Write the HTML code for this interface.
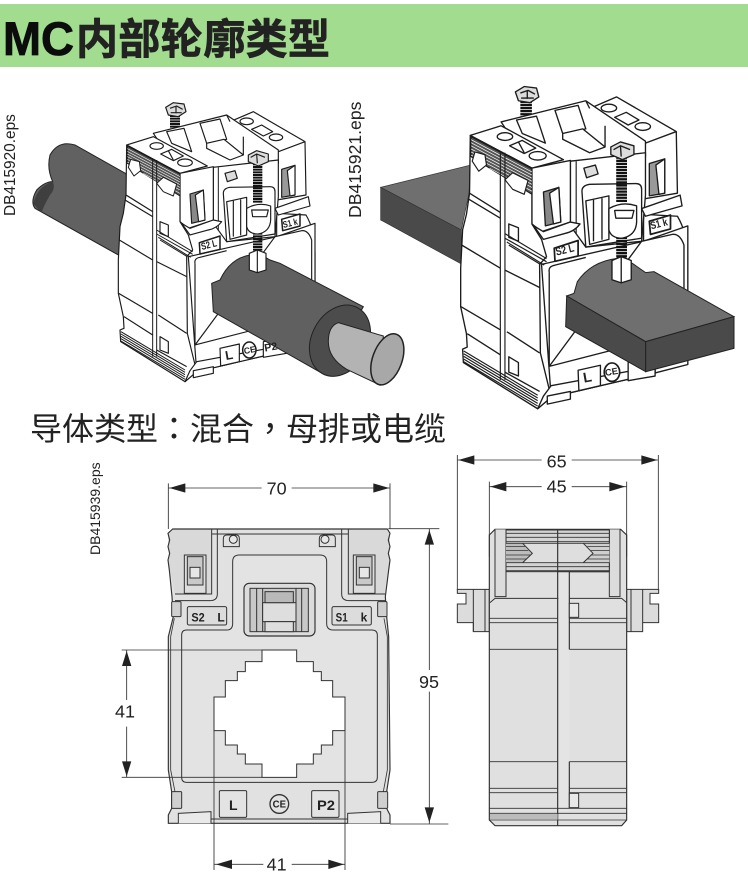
<!DOCTYPE html>
<html><head><meta charset="utf-8">
<style>
html,body{margin:0;padding:0;background:#fff}
svg{display:block}
.d{font-family:"Liberation Sans",sans-serif;fill:#222}
.k{font-family:"Liberation Sans","Noto Sans CJK SC",sans-serif}
</style></head><body>
<svg width="748" height="878" viewBox="0 0 748 878" xmlns="http://www.w3.org/2000/svg">
<defs>
<g id="base" stroke="#1c1c1c" stroke-width="3.5" stroke-linejoin="round" fill="#fff">
  <!-- back screw -->
  <path d="M525,105 L525,150" stroke="#111" stroke-width="30" stroke-dasharray="6 2" fill="none"/>
  <path d="M497,82 L520,68 L552,72 L558,95 L535,110 L505,105 Z" fill="#ddd"/>
  <path d="M510,85 L530,78 L548,88 M528,78 L528,100 M512,98 L545,98" fill="none"/>
  <!-- rear right terminal -->
  <path d="M690,125 L760,95 L915,185 L918,345 L830,360 L830,215 Z"/>
  <path d="M730,170 L835,215 L915,185" fill="none"/>
  <ellipse cx="740" cy="124" rx="20" ry="10"/>
  <ellipse cx="828" cy="172" rx="20" ry="10"/>
  <path d="M755,148 L785,135 L818,155 L790,168 Z"/>
  <path d="M845,268 L885,256 L885,345 L845,352 Z" fill="#999"/>
  <path d="M862,272 L885,256 L885,345 L870,348 Z" fill="#fff"/>
  <!-- outer right of body -->
  <path d="M830,400 L918,405 Q945,450 945,520 L945,700 L830,720 Z"/>
  <!-- middle top -->
  <path d="M460,160 L680,105 L835,210 L835,250 L640,262 L540,280 Z"/>
  <path d="M500,155 L552,145 L575,215 L515,190 Z"/>
  <path d="M600,130 L660,117 L680,178 L620,190 Z"/>
  <path d="M620,190 L672,178 L730,225 L690,240 L620,205 Z"/>
  <path d="M680,105 L690,125 M730,170 L730,225" fill="none"/>
  <!-- centre face -->
  <path d="M565,530 L830,470 L945,430 L945,790 L860,812 L590,875 Z"/>
  <path d="M640,262 L835,240 L835,350 L825,470 L680,485 L640,430 Z"/>
  <path d="M655,262 L655,450" fill="none" stroke-width="3"/>
  <path d="M670,340 Q670,325 690,322 L810,320 Q825,320 825,335 L825,462 L680,485 Z"/>
  <path d="M680,365 L740,352 L740,465 L690,478 Z"/>
  <path d="M700,362 L700,470 M722,358 L722,466" fill="none"/>
  <path d="M675,280 L705,272 L712,295 L682,305 Z" fill="#ddd"/>
  <path d="M585,550 Q582,535 600,532 L680,512 M825,470 L905,452 Q925,450 935,480 L935,705 L585,795 Z" fill="#fff"/>
  <path d="M585,550 L585,795" fill="none"/>
  <!-- flange strips -->
  <path d="M825,385 L925,350 L930,378 L835,405 Z"/>
  <!-- left block top -->
  <path d="M380,195 L460,170 L622,258 L540,280 Z"/>
  <ellipse cx="470" cy="198" rx="20" ry="10"/>
  <ellipse cx="555" cy="248" rx="22" ry="11"/>
  <path d="M482,222 L515,208 L550,228 L520,242 Z"/>
  <path d="M505,212 L520,240" fill="none"/>
  <!-- left block front -->
  <path d="M540,280 L640,260 L640,420 L565,445 L540,425 Z"/>
  <path d="M570,342 L610,330 L615,420 L575,430 Z" fill="#888"/>
  <path d="M586,345 L610,330 L615,420 L596,425 Z"/>
  <!-- left side -->
  <path d="M380,195 L540,280 L540,425 L565,465 L578,510 L560,530 L562,760 L590,875 L555,905 L362,785 L360,750 L372,745 L370,710 L355,640 L355,540 L360,440 L370,400 L378,345 Z"/>
  <path d="M382,198 L540,282 L540,348 L382,250 Z" fill="#555" stroke-width="3"/>
  <path d="M382,206 L540,290 M382,214 L540,298 M382,222 L540,306 M382,230 L540,314 M382,238 L540,322 M382,246 L540,330 M430,280 L540,340" fill="none" stroke="#fff" stroke-width="1.8"/>
  <path d="M392,238 L418,245 L422,272 L402,288 L385,262 Z" stroke-width="3"/>
  <path d="M490,292 L530,312 L520,348 L490,335 L470,310 Z" stroke-width="3"/>
  <path d="M458,240 L458,830 M470,240 L470,830" fill="none" stroke-width="3"/>
  <path d="M378,345 L458,395 M375,360 L458,410 M358,480 L458,540 M470,545 L560,590 M356,640 L458,700 M372,710 L458,765 M475,705 L560,760" fill="none"/>
  <path d="M480,425 L505,435 L505,470 L480,460 Z"/>
  <path d="M470,450 L578,515 M470,462 L578,523 M475,472 L572,532 M480,480 L562,530" fill="none" stroke-width="3"/>
  <path d="M480,770 L505,785 L505,820 L480,810 Z"/>
  <path d="M470,810 L560,860" fill="none"/>
  <path d="M363,755 L555,870 M363,762 L555,877 M363,769 L555,884 M363,776 L555,891 M363,783 L555,898" fill="none" stroke-width="3"/>
  <path d="M555,905 L590,875 L860,812 L860,795 L590,845 L570,872 Z"/>
  <path d="M580,872 L640,860 L640,880 L580,893 Z"/>
  <!-- label flange -->
  <path d="M545,430 L570,445 L640,420 L665,425 Q650,445 625,450 L570,465 Z"/>
  <!-- labels frames -->
  <path d="M598,488 L660,468 L660,508 L600,522 Z" stroke-width="4.5"/>
  <path d="M845,418 L900,402 L900,438 L848,452 Z" stroke-width="4.5"/>
  <path d="M660,805 L718,792 L718,845 L662,858 Z" stroke-width="3.5"/>
  <ellipse cx="748" cy="810" rx="20" ry="24" stroke-width="4.5"/>
  <path d="M790,785 L860,770 L860,820 L790,832 Z" stroke-width="3.5"/>
</g>
<g id="front" stroke="#1c1c1c" stroke-width="3.5" stroke-linejoin="round" fill="#fff">
  <path d="M773,250 L773,370" stroke="#111" stroke-width="28" stroke-dasharray="6 2" fill="none"/>
  <path d="M773,450 L773,520" stroke="#111" stroke-width="28" stroke-dasharray="6 2" fill="none"/>
  <path d="M745,225 L770,212 L805,222 L805,245 L775,258 L745,245 Z" fill="#ddd"/>
  <path d="M752,232 L770,222 L795,232 M770,222 L772,250" fill="none"/>
  <path d="M740,385 Q775,365 812,378 L812,420 Q810,455 775,462 Q745,462 740,440 Z"/>
  <path d="M755,390 L805,390 L800,410 L758,410 Z"/>
  <path d="M748,520 L772,510 L798,520 L798,570 L772,578 L748,570 Z"/>
  <path d="M772,510 L772,578" fill="none"/>
</g>
</defs>

<rect x="0" y="0" width="748" height="878" fill="#fff"/>
<!-- Header -->
<rect x="0" y="4" width="748" height="63" fill="#a2dc8e"/>
<text class="k" x="3" y="55" font-size="47" font-weight="700" fill="#0c0c0c" stroke="#0c0c0c" stroke-width=".8" textLength="71" lengthAdjust="spacingAndGlyphs">MC</text>
<text class="k" x="76" y="54" font-size="42" font-weight="700" fill="#222" stroke="#222" stroke-width=".7" textLength="254">内部轮廓类型</text>

<!-- Left device -->
<text class="d" transform="translate(15,216) rotate(-90)" font-size="15.4" fill="#444">DB415920.eps</text>
<g transform="translate(0,80) scale(.33333)">
  <path d="M150,225 Q175,180 225,195 L385,285 L380,400 L355,525 L105,385 Q90,365 110,330 Q135,305 158,305 Q140,265 150,225 Z" fill="#616161" stroke="#222" stroke-width="3"/>
  <path d="M100,372 Q110,320 158,305 Q168,325 150,345 Q130,380 125,398 Z" fill="#3f3f3f"/>
  <use href="#base"/>
  <path d="M635,610 L660,600 Q690,535 750,525 Q790,525 810,540 L840,550 L1090,680 L975,885 L640,695 Z" fill="#606060" stroke="#222" stroke-width="3"/>
  <ellipse cx="1020" cy="782" rx="85" ry="112" transform="rotate(28 1020 782)" fill="#4c4c4c" stroke="#222" stroke-width="3"/>
  <path d="M985,785 Q985,738 1015,728 L1150,768 L1140,915 L1040,868 Q985,835 985,785 Z" fill="#b3b3b3" stroke="#222" stroke-width="3"/>
  <ellipse cx="1162" cy="838" rx="44" ry="80" transform="rotate(20 1162 838)" fill="#a8a8a8" stroke="#222" stroke-width="4.5"/>
  <use href="#front"/>
  <g font-family="'Liberation Sans',sans-serif" font-weight="700" fill="#222">
    <text transform="translate(606,510) rotate(-14)" font-size="30" textLength="48" lengthAdjust="spacingAndGlyphs">S2 L</text>
    <text transform="translate(851,444) rotate(-14)" font-size="28" textLength="45" lengthAdjust="spacingAndGlyphs">S1 k</text>
    <text transform="translate(678,840) rotate(-10)" font-size="38">L</text>
    <text transform="translate(733,822) rotate(-10)" font-size="26">CE</text>
    <text transform="translate(795,815) rotate(-10)" font-size="32">P2</text>
  </g>
</g>

<!-- Right device -->
<text class="d" transform="translate(361,218) rotate(-90)" font-size="17.6" fill="#444">DB415921.eps</text>
<g transform="translate(374,80) scale(.33333)">
  <path d="M20,322 L290,255 L285,340 L262,450 Z" fill="#6f6f6f" stroke="#333" stroke-width="2"/>
  <path d="M20,322 L262,450 L262,552 L20,420 Z" fill="#4a4a4a" stroke="#333" stroke-width="2"/>
  <g transform="translate(-150,-59) scale(1.155)"><use href="#base"/></g>
  <path d="M578,648 L600,640 L610,605 Q650,545 730,535 L775,550 L815,578 L840,575 L1080,710 L815,785 Z" fill="#6f6f6f" stroke="#222" stroke-width="3"/>
  <path d="M578,648 L815,785 L815,875 L575,740 Z" fill="#4a4a4a" stroke="#222" stroke-width="3"/>
  <path d="M815,785 L1080,710 L1080,805 L815,875 Z" fill="#4a4a4a" stroke="#222" stroke-width="3"/>
  <g transform="translate(-150,-59) scale(1.155)"><use href="#front"/></g>
  <g font-family="'Liberation Sans',sans-serif" font-weight="700" fill="#222">
    <text transform="translate(548,527) rotate(-14)" font-size="34" textLength="56" lengthAdjust="spacingAndGlyphs">S2 L</text>
    <text transform="translate(832,448) rotate(-14)" font-size="32" textLength="52" lengthAdjust="spacingAndGlyphs">S1 k</text>
    <text transform="translate(630,908) rotate(-10)" font-size="42">L</text>
    <text transform="translate(695,888) rotate(-10)" font-size="28">CE</text>
  </g>
</g>

<!-- Sub heading -->
<text x="30" y="440" font-size="32" fill="#222" font-family="'Noto Sans CJK TC','Noto Sans CJK SC',sans-serif">导体类型&#xFF1A;混合&#xFF0C;母排或电缆</text>

<!-- Front view -->
<text class="d" transform="translate(100,555) rotate(-90)" font-size="14" fill="#444">DB415939.eps</text>
<g transform="translate(80,450) scale(.33333)">
  <path d="M278,237 L922,237 L930,250 L925,270 L930,290 L925,310 L930,330 L926,360 L916,440 L920,500 L926,560 L930,960 L920,1025 L920,1075 L930,1095 L930,1120 L265,1120 L265,1095 L275,1075 L275,1025 L265,960 L265,560 L280,500 L276,440 L268,360 L264,330 L269,310 L264,290 L269,270 L264,250 Z" fill="#e1e1e1"/>
  <path d="M278,237 L395,237 L395,432 L285,432 L268,350 L264,250 Z" fill="#d9d9d9"/>
  <path d="M922,237 L805,237 L805,432 L912,432 L926,350 L930,250 Z" fill="#d9d9d9"/>
  <path d="M278,237 L922,237 L930,250 L925,270 L930,290 L925,310 L930,330 L926,360 L916,440 L920,500 L926,560 L930,960 L920,1025 L920,1075 L930,1095 L930,1120 L265,1120 L265,1095 L275,1075 L275,1025 L265,960 L265,560 L280,500 L276,440 L268,360 L264,330 L269,310 L264,290 L269,270 L264,250 Z" fill="none" stroke="#333" stroke-width="3.5" stroke-linejoin="round"/>
  <path d="M283,505 L272,560 L272,960 L285,1025 M912,505 L922,560 L922,960 L910,1025" fill="none" stroke="#333" stroke-width="2.5"/>
  <g fill="none" stroke="#333" stroke-width="3">
    <path d="M395,237 L395,432 L285,432"/>
    <path d="M412,237 L412,432 Q412,452 390,452 L285,452"/>
    <path d="M805,237 L805,432 L915,432"/>
    <path d="M785,237 L785,432 Q785,452 808,452 L915,452"/>
    <path d="M395,252 L805,252"/>
  </g>
  <path d="M430,290 L430,265 Q430,255 442,255 L468,255 Q478,255 478,265 L478,290 Z" fill="#e1e1e1" stroke="#333" stroke-width="3"/>
  <circle cx="460" cy="268" r="12" fill="#e8e8e8" stroke="#333" stroke-width="3"/>
  <path d="M718,290 L718,265 Q718,255 730,255 L756,255 Q766,255 766,265 L766,290 Z" fill="#e1e1e1" stroke="#333" stroke-width="3"/>
  <circle cx="735" cy="268" r="12" fill="#e8e8e8" stroke="#333" stroke-width="3"/>
  <!-- terminal windows -->
  <g fill="#ddd" stroke="#333" stroke-width="3">
    <rect x="313" y="315" width="65" height="115"/>
    <rect x="322" y="320" width="47" height="85" fill="#c9c9c9"/>
    <rect x="330" y="352" width="30" height="32" fill="#e6e6e6"/>
    <rect x="820" y="315" width="65" height="115"/>
    <rect x="829" y="320" width="47" height="85" fill="#c9c9c9"/>
    <rect x="838" y="352" width="30" height="32" fill="#e6e6e6"/>
  </g>
  <!-- main panel -->
  <path d="M305,555 Q305,540 320,540 L440,540 Q458,540 458,520 L458,335 Q458,315 478,315 L720,315 Q740,315 740,335 L740,520 Q740,540 760,540 L875,540 Q892,540 892,555 L892,982 Q892,997 875,997 L320,997 Q305,997 305,982 Z" fill="#e3e3e3" stroke="#333" stroke-width="3"/>
  <rect x="492" y="400" width="213" height="158" rx="16" fill="#dcdcdc" stroke="#333" stroke-width="3.5"/>
  <rect x="510" y="415" width="175" height="130" fill="#c8c8c8" stroke="#333" stroke-width="3"/>
  <path d="M530,415 V545 M548,415 V545 M648,415 V545 M665,415 V545" stroke="#333" stroke-width="3" fill="none"/>
  <rect x="548" y="458" width="100" height="57" fill="#dedede" stroke="#333" stroke-width="3"/>
  <rect x="555" y="425" width="85" height="33" fill="#b9b9b9" stroke="#333" stroke-width="3"/>
  <rect x="555" y="515" width="85" height="30" fill="#dedede" stroke="#333" stroke-width="3"/>
  <!-- S labels -->
  <rect x="322" y="470" width="118" height="55" rx="5" fill="#dcdcdc" stroke="#333" stroke-width="3"/>
  <rect x="756" y="470" width="118" height="55" rx="5" fill="#dcdcdc" stroke="#333" stroke-width="3"/>
  <g font-family="'Liberation Sans',sans-serif" font-weight="700" fill="#222" font-size="36">
    <text x="334" y="514" textLength="40" lengthAdjust="spacingAndGlyphs">S2</text>
    <text x="412" y="514">L</text>
    <text x="767" y="514" textLength="36" lengthAdjust="spacingAndGlyphs">S1</text>
    <text x="842" y="514">k</text>
  </g>
  <!-- clips -->
  <g fill="#d0d0d0" stroke="#333" stroke-width="3">
    <rect x="275" y="455" width="28" height="45" rx="3"/>
    <rect x="893" y="455" width="28" height="45" rx="3"/>
    <rect x="275" y="1025" width="30" height="50" rx="3"/>
    <rect x="893" y="1025" width="30" height="50" rx="3"/>
  </g>
  <!-- hole -->
  <path d="M546,600 L650,600 L650,635 L700,635 L700,665 L724,665 L724,692 L758,692 L758,741 L795,741 L795,842 L758,842 L758,885 L724,885 L724,912 L700,912 L700,942 L650,942 L650,982 L546,982 L546,942 L496,942 L496,912 L472,912 L472,885 L436,885 L436,842 L402,842 L402,741 L436,741 L436,692 L472,692 L472,665 L496,665 L496,635 L546,635 Z" fill="#fff" stroke="#333" stroke-width="3"/>
  <!-- bottom labels -->
  <rect x="418" y="1022" width="82" height="80" rx="4" fill="#e3e3e3" stroke="#333" stroke-width="3"/>
  <rect x="695" y="1022" width="82" height="80" rx="4" fill="#e3e3e3" stroke="#333" stroke-width="3"/>
  <circle cx="598" cy="1062" r="28" fill="#e3e3e3" stroke="#333" stroke-width="4"/>
  <g font-family="'Liberation Sans',sans-serif" font-weight="700" fill="#222">
    <text x="447" y="1080" font-size="42">L</text>
    <text x="711" y="1080" font-size="42" textLength="54" lengthAdjust="spacingAndGlyphs">P2</text>
    <text x="578" y="1073" font-size="30" textLength="40" lengthAdjust="spacingAndGlyphs">CE</text>
  </g>
  <!-- feet -->
  <path d="M295,1120 L295,1090 L393,1085 L393,1120 M803,1120 L803,1090 L902,1085 L902,1120 M393,1107 L803,1107" fill="#e9e9e9" stroke="#333" stroke-width="3"/>
  <!-- dims -->
  <g stroke="#333" stroke-width="2.6" fill="none">
    <path d="M265,100 V237 M930,100 V237 M265,114 H545 M635,114 H930"/>
    <path d="M925,236 H1078 M930,1122 H1105 M1048,237 V660 M1048,725 V1122"/>
    <path d="M125,600 H546 M125,982 H546 M140,600 V750 M140,830 V982"/>
    <path d="M402,842 V1260 M795,800 V1260 M402,1243 H550 M635,1243 H795"/>
  </g>
  <g fill="#222">
    <polygon points="268,114 316,100 316,128"/><polygon points="928,114 880,100 880,128"/>
    <polygon points="1048,240 1034,284 1062,284"/><polygon points="1048,1118 1034,1072 1062,1072"/>
    <polygon points="140,603 126,648 154,648"/><polygon points="140,979 126,934 154,934"/>
    <polygon points="408,1243 456,1229 456,1257"/><polygon points="792,1243 745,1229 745,1257"/>
  </g>
  <g class="d" font-size="54" text-anchor="middle" fill="#333">
    <text x="590" y="133">70</text>
    <text x="1047" y="714">95</text>
    <text x="135" y="803">41</text>
    <text x="590" y="1262">41</text>
  </g>
</g>

<!-- Side view -->
<g transform="translate(450,450) scale(.33333)" stroke="#333" stroke-width="3">
  <path d="M22,418 L118,418 L118,545 L70,545 L70,518 L22,518 L22,462 L48,462 L48,430 L22,430 Z" fill="#dcdcdc"/>
  <path d="M530,418 L626,418 L626,430 L600,430 L600,462 L626,462 L626,518 L578,518 L578,545 L530,545 Z" fill="#dcdcdc"/>
  <path d="M70,418 V545 M105,418 V545 M543,418 V545 M578,418 V518" fill="none"/>
  <path d="M118,255 L135,238 L512,238 L530,255 L530,1110 L515,1127 L135,1127 L118,1110 Z" fill="#e0e0e0" stroke-width="3.5"/>
  <path d="M135,238 V440 H168 V238 M478,238 V440 H510 V238" fill="#dcdcdc"/>
  <path d="M120,458 L135,445 L515,445 L530,458" fill="none"/>
  <rect x="168" y="240" width="310" height="125" fill="#d4d4d4"/>
  <rect x="168" y="280" width="310" height="58" fill="#dedede" stroke="none"/>
  <path d="M168,280 V338 L218,338 L247,310 L218,280 Z" fill="#bdbdbd" stroke="none"/>
  <path d="M429,310 L400,280 L478,280 L478,338 L400,338 Z" fill="#cfcfcf" stroke="none"/>
  <path d="M168,250 H478 M168,262 H478 M168,275 H478 M168,280 H478 M168,338 H478 M168,350 H478 M168,362 H478" fill="none" stroke-width="2.5"/>
  <path d="M168,290 H225 M168,302 H235 M168,315 H240 M168,327 H230 M412,290 H478 M422,302 H478 M422,315 H478 M412,327 H478" fill="none" stroke-width="2.2"/>
  <path d="M218,280 L247,310 L218,338 M400,280 L429,310 L400,338" fill="none" stroke-width="3"/>
  <rect x="325" y="365" width="33" height="720" fill="#e4e4e4" stroke="none"/>
  <path d="M323,238 V1127 M358,365 V598 M358,935 V1075 M323,365 H478" fill="none" stroke-width="3.5"/>
  <path d="M118,505 H323 M118,518 H323 M358,505 H530 M358,518 H530 M118,598 H323 M358,598 H530 M118,935 H323 M358,935 H530 M118,1015 H323 M118,1028 H323 M358,1015 H530 M358,1028 H530 M118,1075 H530 M118,1090 H530 M118,1110 H530" fill="none" stroke-width="2.5"/>
  <rect x="358" y="460" width="28" height="42" fill="#e8e8e8"/>
  <rect x="358" y="1030" width="28" height="43" fill="#e8e8e8"/>
  <rect x="120" y="1092" width="203" height="17" fill="#bbb" stroke="none"/>
  <!-- dims -->
  <path d="M22,15 V420 M625,15 V420 M118,95 V320 M530,95 V320 M22,30 H275 M365,30 H625 M118,110 H275 M365,110 H530" fill="none" stroke-width="2.6"/>
  <g fill="#222" stroke="none">
    <polygon points="25,30 73,16 73,44"/><polygon points="622,30 574,16 574,44"/>
    <polygon points="121,110 169,96 169,124"/><polygon points="526,110 478,96 478,124"/>
  </g>
  <g class="d" font-size="54" text-anchor="middle" fill="#333" stroke="none">
    <text x="320" y="52">65</text>
    <text x="320" y="128">45</text>
  </g>
</g>
</svg>
</body></html>
